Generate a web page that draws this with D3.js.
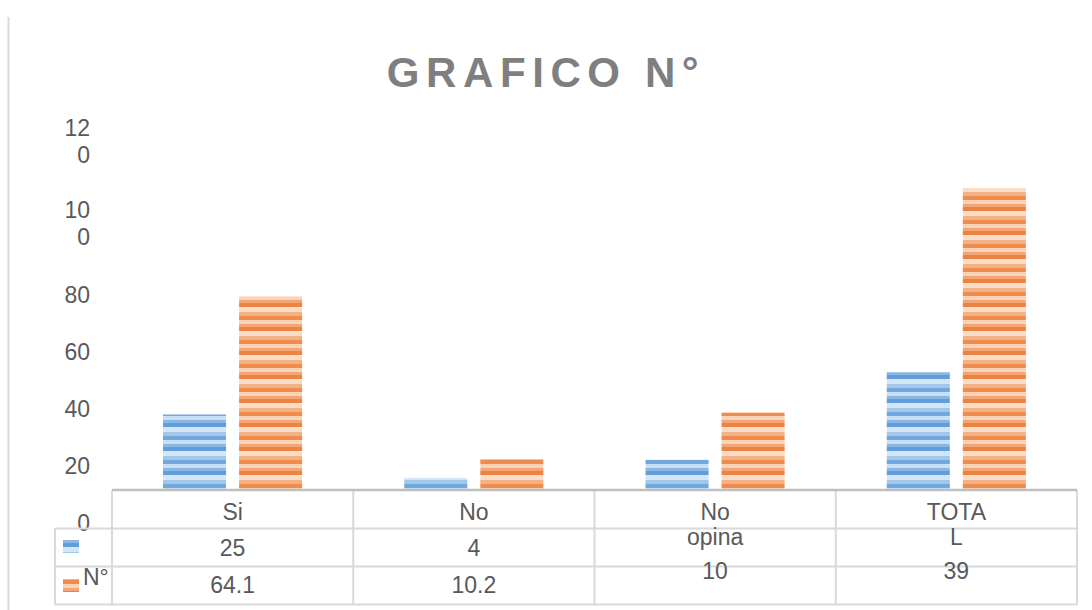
<!DOCTYPE html>
<html>
<head>
<meta charset="utf-8">
<script src="https://cdn.jsdelivr.net/npm/d3@7"></script>
<style>
  html, body { margin: 0; padding: 0; background: #ffffff; }
  svg { display: block; font-family: "Liberation Sans", Arial, sans-serif; }
</style>
</head>
<body>
<svg id="chart" width="1092" height="610"></svg>
<script>
// ---- data ----
const title = "GRAFICO N°";
const categories = ["Si", "No", "No opina", "TOTAL"];
const seriesNames = ["", "N°"];
const countValues = [25, 4, 10, 39];
const percentValues = [64.1, 10.2, 25.6, 100];
const tickValues = [0, 20, 40, 60, 80, 100, 120];

// ---- setup ----
const svg = d3.select("#chart");
const W = 1092, H = 610;
const textColor = "#595959";
const gridColor = "#d9d9d9";
const fontSize = 23;

const series = [
  { name: seriesNames[0], values: countValues, pattern: "stripe-blue" },
  { name: seriesNames[1], values: percentValues, pattern: "stripe-orange" }
];

// striped fills for the bars
const defs = svg.append("defs");
const stripeSets = {
  "stripe-blue": [
    [0, 4, "#a3c7e8"], [4, 8, "#6fa7dc"], [8, 12, "#c9dff3"],
    [12, 15, "#8ab8e3"], [15, 19, "#5f9ed8"], [19, 24, "#d3e5f6"]
  ],
  "stripe-orange": [
    [0, 4, "#f4b183"], [4, 8, "#ee8c4e"], [8, 12, "#f9d3b9"],
    [12, 15, "#f3a673"], [15, 19, "#ed8342"], [19, 24, "#fbdcc7"]
  ]
};
Object.entries(stripeSets).forEach(([id, stripes]) => {
  const p = defs.append("pattern")
    .attr("id", id)
    .attr("patternUnits", "userSpaceOnUse")
    .attr("width", 10).attr("height", 24);
  p.selectAll("rect").data(stripes).join("rect")
    .attr("x", 0).attr("width", 10)
    .attr("y", d => d[0]).attr("height", d => d[1] - d[0])
    .attr("fill", d => d[2]);
});
defs.append("filter").attr("id", "soft")
  .append("feGaussianBlur").attr("stdDeviation", 0.7);

// left frame edge
svg.append("line")
  .attr("x1", 8.5).attr("x2", 8.5).attr("y1", 17).attr("y2", H)
  .attr("stroke", gridColor).attr("stroke-width", 2);

// title
svg.append("text")
  .attr("x", 546).attr("y", 87)
  .attr("text-anchor", "middle")
  .attr("font-size", 42).attr("font-weight", "bold")
  .attr("letter-spacing", 6.6)
  .attr("fill", "#7f7f7f")
  .text(title);

// ---- scales ----
const tableLeft = 112, tableRight = 1077;
const baseY = 490;
const x = d3.scaleBand().domain(categories).range([tableLeft, tableRight]).padding(0);
const bw = x.bandwidth();
const xs = d3.scaleBand().domain(d3.range(series.length))
  .range([bw * 0.2115, bw * 0.788]).paddingInner(0.171).paddingOuter(0);
const y = d3.scaleLinear().domain([0, 120]).range([baseY, 127.6]);
// tick labels sit on their own (piecewise) scale
const yLabel = d3.scaleLinear().domain([0, 100, 120]).range([523.5, 237.5, 155]);

// ---- bars ----
const groups = svg.append("g").attr("filter", "url(#soft)")
  .selectAll("g").data(series).join("g")
  .attr("fill", d => `url(#${d.pattern})`);
groups.selectAll("rect")
  .data((s, si) => s.values.map((v, i) => ({ v, cat: categories[i], si })))
  .join("rect")
  .attr("x", d => x(d.cat) + xs(d.si))
  .attr("width", xs.bandwidth())
  .attr("y", d => y(d.v))
  .attr("height", d => baseY - y(d.v));

// ---- value axis labels ----
const yAxis = svg.append("g")
  .attr("transform", "translate(90,0)")
  .call(d3.axisLeft(yLabel).tickValues(tickValues).tickSize(0).tickPadding(0)
    .tickFormat(d3.format("d")));
yAxis.select(".domain").remove();
yAxis.selectAll("text")
  .attr("font-size", fontSize)
  .attr("font-family", "'Liberation Sans', Arial, sans-serif")
  .attr("fill", textColor)
  .each(function () {
    const t = d3.select(this);
    const s = t.text();
    if (s.length <= 2) return;
    const lines = [s.slice(0, 2), s.slice(2)];
    t.text(null).attr("dy", null);
    lines.forEach((ln, i) => {
      t.append("tspan")
        .attr("x", 0)
        .attr("y", (i - (lines.length - 1)) * 27)
        .attr("dy", "0.32em")
        .text(ln);
    });
  });

// ---- data table ----
const rowY = [baseY, 528.5, 566.5, 604.5];
const legendLeft = 55;
const table = svg.append("g");

// horizontal rules
table.selectAll("line.h")
  .data(rowY.slice(1)).join("line").attr("class", "h")
  .attr("x1", legendLeft).attr("x2", tableRight)
  .attr("y1", d => d).attr("y2", d => d)
  .attr("stroke", gridColor).attr("stroke-width", 2);
// column rules
const colX = categories.map(c => x(c)).concat([tableRight]);
table.selectAll("line.v")
  .data(colX).join("line").attr("class", "v")
  .attr("x1", d => d).attr("x2", d => d)
  .attr("y1", baseY).attr("y2", rowY[3])
  .attr("stroke", gridColor).attr("stroke-width", 2);
table.append("line")
  .attr("x1", legendLeft).attr("x2", legendLeft)
  .attr("y1", rowY[1]).attr("y2", rowY[3])
  .attr("stroke", gridColor).attr("stroke-width", 2);
// category axis line
table.append("line")
  .attr("x1", tableLeft).attr("x2", tableRight)
  .attr("y1", baseY).attr("y2", baseY)
  .attr("stroke", "#bfbfbf").attr("stroke-width", 2.5);

// legend keys
series.forEach((s, i) => {
  table.append("rect")
    .attr("x", 63).attr("y", i === 0 ? 540 : 579)
    .attr("width", 16).attr("height", 13)
    .attr("fill", `url(#${s.pattern})`)
    .attr("filter", "url(#soft)");
  if (s.name) {
    table.append("text")
      .attr("x", 83).attr("y", 585)
      .attr("font-size", fontSize).attr("fill", textColor)
      .text(s.name);
  }
});

// narrow cells wrap their header text
const ctx = document.createElement("canvas").getContext("2d");
ctx.font = `${fontSize}px "Liberation Sans", Arial, sans-serif`;
const maxLine = 64;
function wrap(label) {
  const out = [];
  label.split(" ").forEach(word => {
    let cur = "";
    for (const ch of word) {
      if (ctx.measureText(cur + ch).width > maxLine && cur) { out.push(cur); cur = ch; }
      else cur += ch;
    }
    out.push(cur);
  });
  return out;
}

const cells = table.append("g")
  .attr("font-size", fontSize).attr("fill", textColor).attr("text-anchor", "middle");
const valueBase = [556, 593];
const bottomLimit = rowY[3] - 4;
categories.forEach((cat, i) => {
  const cx = x(cat) + bw / 2;
  const lines = wrap(cat);
  lines.forEach((ln, k) => {
    cells.append("text").attr("x", cx).attr("y", 520 + k * 25).text(ln);
  });
  // wrapped headers push the values down; whatever overflows the cell is hidden
  const shift = (lines.length - 1) * 23;
  series.forEach((s, si) => {
    const yy = valueBase[si] + shift;
    if (yy > bottomLimit) return;
    cells.append("text").attr("x", cx).attr("y", yy).text(String(s.values[i]));
  });
});
</script>
</body>
</html>
